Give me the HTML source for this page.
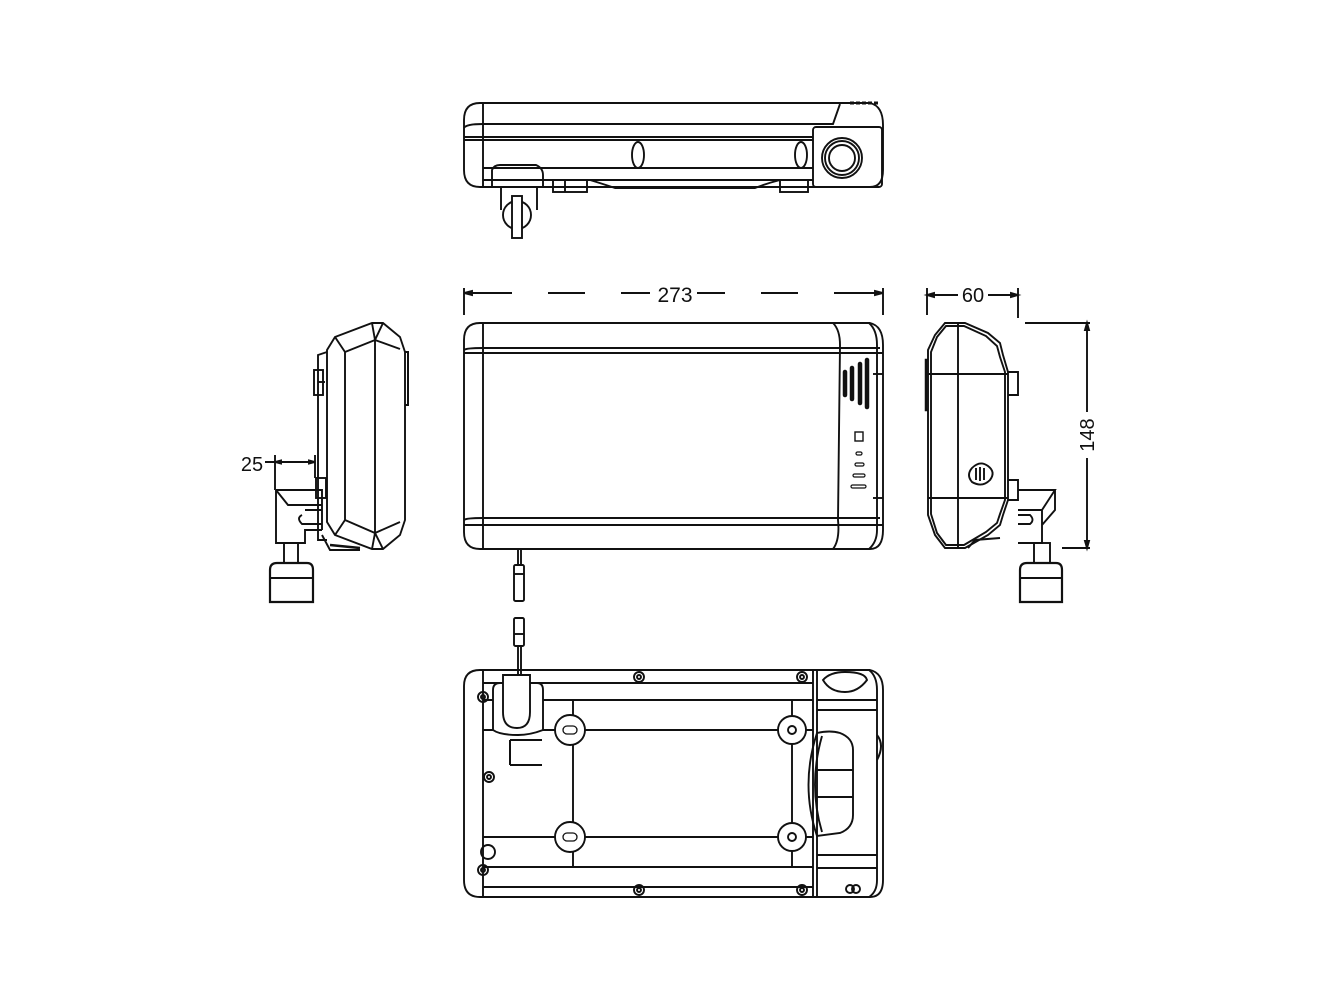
<!DOCTYPE html>
<html><head><style>html,body{margin:0;padding:0;background:#fff}svg{display:block}</style></head><body>
<svg width="1334" height="1000" viewBox="0 0 1334 1000" xmlns="http://www.w3.org/2000/svg" fill="none" stroke="#111" stroke-width="1.9" font-family="Liberation Sans, sans-serif">
<!-- TOP VIEW -->
<g>
<path d="M480,103 L870,103 Q883,106 883,125 L883,170 Q883,187 870,187 L480,187 Q464,187 464,170 L464,120 Q464,103 480,103 Z"/>
<line x1="483" y1="103" x2="483" y2="187"/>
<path d="M464,128 Q466,124 483,124 L833,124 L840,104"/>
<line x1="464" y1="137" x2="813" y2="137"/>
<line x1="464" y1="140" x2="813" y2="140"/>
<line x1="483" y1="168" x2="813" y2="168"/>
<line x1="483" y1="180" x2="813" y2="180"/>
<rect x="813" y="127" width="69" height="60" rx="3"/>
<circle cx="842" cy="158" r="20"/><circle cx="842" cy="158" r="17"/><circle cx="842" cy="158" r="13"/>
<ellipse cx="638" cy="155" rx="6" ry="13"/><ellipse cx="801" cy="155" rx="6" ry="13"/>
<path d="M850,103 L878,103" stroke-width="3" stroke-dasharray="4 2"/>
<path d="M492,188 L492,170 Q494,165 500,165 L536,165 Q543,168 543,175 L543,188"/>
<rect x="553" y="180" width="34" height="12"/><line x1="565" y1="180" x2="565" y2="192"/>
<rect x="780" y="180" width="28" height="12"/>
<path d="M590,180 Q600,183 615,188 L755,188 Q768,183 780,180"/>
<path d="M501,188 L501,210 M537,188 L537,210"/>
<circle cx="517" cy="215" r="14"/>
<rect x="512" y="196" width="10" height="42" fill="#fff"/>
</g>
<!-- DIM 273 -->
<g>
<line x1="464" y1="288" x2="464" y2="315"/><line x1="883" y1="288" x2="883" y2="315"/>
<line x1="464" y1="293" x2="512" y2="293"/><line x1="548" y1="293" x2="585" y2="293"/>
<line x1="621" y1="293" x2="650" y2="293"/><line x1="697" y1="293" x2="725" y2="293"/>
<line x1="761" y1="293" x2="798" y2="293"/><line x1="834" y1="293" x2="883" y2="293"/>
<path d="M464,293 l8,-2 l0,4 z M883,293 l-8,-2 l0,4 z" fill="#111"/>
<text x="675" y="302" font-size="21" fill="#111" stroke="none" text-anchor="middle">273</text>
</g>
<!-- FRONT VIEW -->
<g>
<path d="M480,323 L870,323 Q883,326 883,345 L883,530 Q883,549 870,549 L480,549 Q464,549 464,532 L464,340 Q464,323 480,323 Z"/>
<line x1="483" y1="323" x2="483" y2="549"/>
<path d="M464,350 Q466,348 483,348 L880,348 M464,353 L883,353"/>
<path d="M464,520 Q466,518 483,518 L880,518 M464,525 L883,525"/>
<path d="M833,323 Q840,330 840,345 L838,520 Q840,540 833,549"/>
<path d="M869,323 Q877,330 877,345 L877,530 Q877,542 869,549"/>
<line x1="873" y1="374" x2="883" y2="374"/><line x1="873" y1="498" x2="883" y2="498"/>
<g stroke-width="4.5" stroke-linecap="round">
<line x1="845" y1="372" x2="845" y2="395"/><line x1="852" y1="368" x2="852" y2="399"/>
<line x1="860" y1="364" x2="860" y2="403"/><line x1="867" y1="360" x2="867" y2="407"/>
</g>
<rect x="855" y="432" width="8" height="9" stroke-width="1.4"/>
<rect x="856" y="452" width="6" height="3" rx="1.5" stroke-width="1.2"/>
<rect x="855" y="463" width="9" height="3" rx="1.5" stroke-width="1.2"/>
<rect x="853" y="474" width="12" height="3" rx="1.5" stroke-width="1.2"/>
<rect x="851" y="485" width="15" height="3" rx="1.5" stroke-width="1.2"/>
<line x1="518" y1="549" x2="518" y2="565"/><line x1="521" y1="549" x2="521" y2="565"/>
<rect x="514" y="565" width="10" height="36" rx="1.5"/><line x1="514" y1="574" x2="524" y2="574"/>
</g>
<!-- LEFT SIDE VIEW -->
<g>
<path d="M327,350 L335,337 L372,323 L383,323 L400,337 L405,352 L405,520 L400,535 L383,549 L372,549 L335,535 L327,522 Z"/>
<path d="M335,337 L345,352 L345,520 L335,535 M345,352 L375,340 L375,533 L345,520 M372,323 L375,340 L383,323 M375,340 L400,349 M375,533 L400,522 M372,549 L375,533 L383,549"/>
<path d="M405,352 L408,352 L408,405 L405,405" stroke-width="2"/>
<path d="M327,352 L318,355 L318,540 L327,540"/>
<rect x="314" y="370" width="9" height="25"/><line x1="318" y1="382" x2="325" y2="382"/>
<rect x="316" y="478" width="10" height="20"/>
<line x1="275" y1="455" x2="275" y2="490"/><line x1="315" y1="455" x2="315" y2="478"/>
<line x1="265" y1="462" x2="315" y2="462"/>
<path d="M275,462 l6,-1.5 l0,3 z M315,462 l-6,-1.5 l0,3 z" fill="#111"/>
<text x="252" y="471" font-size="20" fill="#111" stroke="none" text-anchor="middle">25</text>
<path d="M276,490 L322,490 L322,530 M276,490 L288,505 L322,505 M276,490 L276,543 L305,543 L305,530 L322,530"/>
<path d="M305,510 L322,510 M302,515 Q296,518 302,524 L322,524"/>
<path d="M322,535 L330,550 L360,550" /><path d="M330,545 L360,548" stroke-width="2.5"/>
<rect x="284" y="543" width="14" height="20"/>
<path d="M270,570 Q270,563 277,563 L307,563 Q313,563 313,570 L313,602 L270,602 Z" stroke-width="2.2"/>
<line x1="270" y1="578" x2="313" y2="578"/>
</g>
<!-- RIGHT SIDE VIEW / DIMS -->
<g>
<line x1="927" y1="288" x2="927" y2="315"/><line x1="1018" y1="288" x2="1018" y2="318"/>
<line x1="927" y1="295" x2="958" y2="295"/><line x1="988" y1="295" x2="1018" y2="295"/>
<path d="M927,295 l7,-2 l0,4 z M1018,295 l-7,-2 l0,4 z" fill="#111"/>
<text x="973" y="302" font-size="20" fill="#111" stroke="none" text-anchor="middle">60</text>
<line x1="1025" y1="323" x2="1090" y2="323"/><line x1="1062" y1="548" x2="1090" y2="548"/>
<line x1="1087" y1="323" x2="1087" y2="412"/><line x1="1087" y1="458" x2="1087" y2="548"/>
<path d="M1087,323 l-2,7 l4,0 z M1087,548 l-2,-7 l4,0 z" fill="#111"/>
<text x="0" y="0" font-size="20" fill="#111" stroke="none" text-anchor="middle" transform="translate(1094,435) rotate(-90)">148</text>
<path d="M945,323 L965,323 L988,333 L1000,343 L1003,355 L1008,372 L1008,500 L1003,515 L1000,525 L988,535 L965,548 L945,548 L935,535 L928,515 L928,350 L935,335 Z"/>
<path d="M946,326 L964,326 L986,336 L997,346 L1000,357 L1005,372 L1005,500 L1000,514 L997,523 L986,532 L964,545 L946,545 L937,533 L931,514 L931,352 L937,337 Z"/>
<line x1="928" y1="374" x2="1008" y2="374"/><line x1="928" y1="498" x2="1008" y2="498"/>
<line x1="958" y1="323" x2="958" y2="548"/>
<path d="M1008,372 L1018,372 L1018,395 L1008,395 M1008,480 L1018,480 L1018,500 L1008,500"/>
<path d="M928,360 L926,360 L926,410 L928,410" stroke-width="2.5"/>
<path d="M972,468 Q980,460 988,466 Q996,472 990,480 Q982,488 972,482 Q966,475 972,468 Z"/>
<line x1="976" y1="468" x2="976" y2="480"/><line x1="980" y1="467" x2="980" y2="481"/><line x1="984" y1="468" x2="984" y2="480"/>
<path d="M1018,490 L1055,490 L1042,510 L1042,543 L1018,543 M1055,490 L1055,510 L1042,525 M1018,510 L1042,510"/>
<path d="M1018,515 L1030,515 Q1035,520 1030,524 L1018,524"/>
<path d="M968,548 L975,540 L1000,538" stroke-width="2"/>
<rect x="1034" y="543" width="16" height="20"/>
<path d="M1020,570 Q1020,563 1027,563 L1056,563 Q1062,563 1062,570 L1062,602 L1020,602 Z" stroke-width="2.2"/>
<line x1="1020" y1="578" x2="1062" y2="578"/>
</g>
<!-- BOTTOM VIEW -->
<g>
<path d="M480,670 L870,670 Q883,673 883,690 L883,880 Q883,897 870,897 L480,897 Q464,897 464,880 L464,686 Q464,670 480,670 Z"/>
<line x1="483" y1="670" x2="483" y2="897"/>
<line x1="813" y1="670" x2="813" y2="897"/><line x1="817" y1="670" x2="817" y2="897"/>
<path d="M869,670 Q877,676 877,690 L877,880 Q877,892 869,897"/>
<line x1="483" y1="683" x2="813" y2="683"/><line x1="483" y1="700" x2="813" y2="700"/>
<line x1="483" y1="730" x2="813" y2="730"/><line x1="483" y1="837" x2="813" y2="837"/>
<line x1="483" y1="867" x2="813" y2="867"/><line x1="483" y1="887" x2="813" y2="887"/>
<line x1="573" y1="700" x2="573" y2="867"/><line x1="792" y1="700" x2="792" y2="867"/>
<line x1="817" y1="700" x2="877" y2="700"/><line x1="817" y1="710" x2="877" y2="710"/>
<line x1="817" y1="855" x2="877" y2="855"/><line x1="817" y1="868" x2="877" y2="868"/>
<circle cx="570" cy="730" r="15" fill="#fff"/><rect x="563" y="726" width="14" height="8" rx="4" stroke-width="1.3"/>
<circle cx="570" cy="837" r="15" fill="#fff"/><rect x="563" y="833" width="14" height="8" rx="4" stroke-width="1.3"/>
<circle cx="792" cy="730" r="14" fill="#fff"/><circle cx="792" cy="730" r="4"/>
<circle cx="792" cy="837" r="14" fill="#fff"/><circle cx="792" cy="837" r="4"/>
<g>
<circle cx="639" cy="677" r="5"/><circle cx="639" cy="677" r="2"/>
<circle cx="802" cy="677" r="5"/><circle cx="802" cy="677" r="2"/>
<circle cx="483" cy="697" r="5"/><circle cx="483" cy="697" r="2"/>
<circle cx="489" cy="777" r="5"/><circle cx="489" cy="777" r="2"/>
<circle cx="483" cy="870" r="5"/><circle cx="483" cy="870" r="2"/>
<circle cx="639" cy="890" r="5"/><circle cx="639" cy="890" r="2"/>
<circle cx="802" cy="890" r="5"/><circle cx="802" cy="890" r="2"/>
<circle cx="850" cy="889" r="4"/><circle cx="856" cy="889" r="4"/>
<circle cx="488" cy="852" r="7"/>
</g>
<path d="M493,730 L493,690 Q493,683 500,683 L537,683 Q543,683 543,690 L543,730 Q530,735 518,735 Q500,735 493,730 Z" fill="#fff"/>
<path d="M503,675 L530,675 L530,712 Q530,728 517,728 Q503,728 503,712 Z" fill="#fff"/>
<path d="M510,740 L510,765 M510,740 L542,740 M510,765 L542,765" stroke-width="2"/>
<line x1="518" y1="645" x2="518" y2="675"/><line x1="521" y1="645" x2="521" y2="675"/>
<rect x="514" y="618" width="10" height="28" rx="1.5"/><line x1="514" y1="634" x2="524" y2="634"/>
<path d="M823,680 Q830,672 845,672 Q865,672 867,680 Q858,692 845,692 Q830,692 823,680 Z"/>
<path d="M817,733 Q830,730 840,733 Q853,738 853,750 L853,815 Q853,828 840,833 L817,836 Q800,785 817,733 Z"/>
<path d="M822,736 Q808,785 822,832"/>
<line x1="817" y1="770" x2="853" y2="770"/><line x1="817" y1="797" x2="853" y2="797"/>
<path d="M877,735 Q885,745 877,760" stroke-width="2"/>
</g>
</svg>
</body></html>
